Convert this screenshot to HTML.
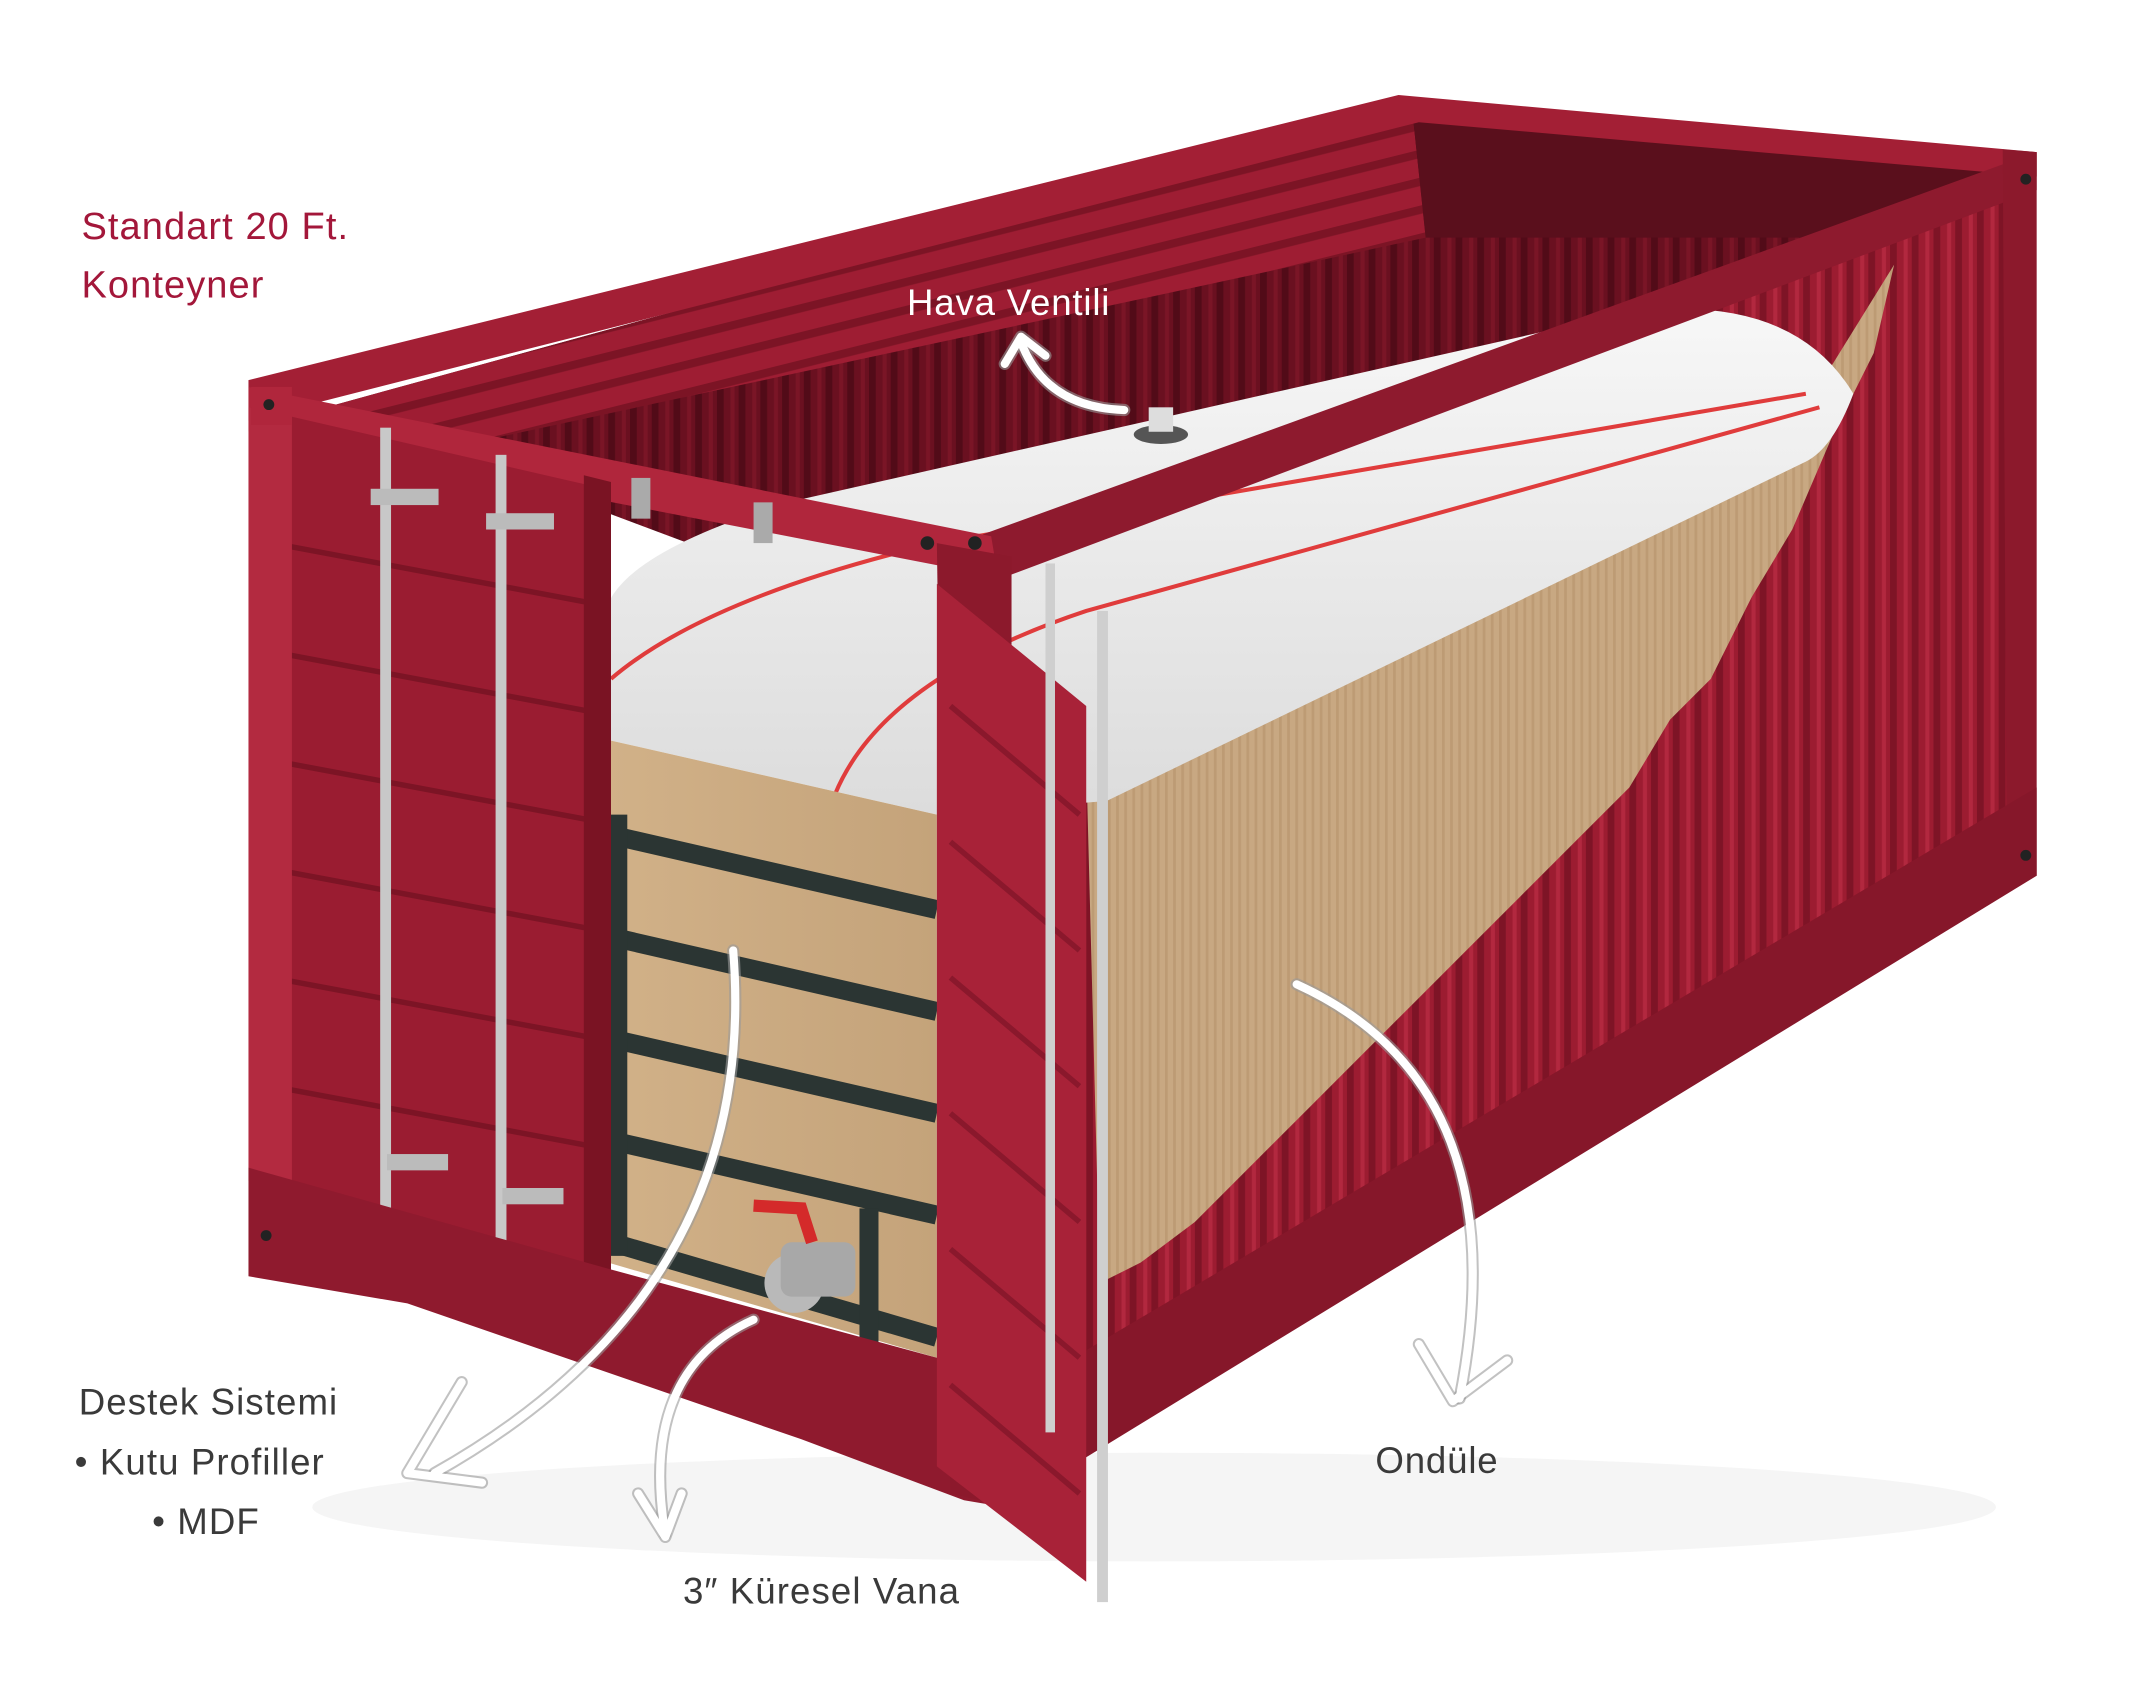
<!DOCTYPE html>
<html><head><meta charset="utf-8">
<style>
html,body{margin:0;padding:0;background:#fff;}
svg{display:block;}
text{font-family:"Liberation Sans","DejaVu Sans",sans-serif;}
</style></head>
<body>
<svg width="2129" height="1689" viewBox="0 0 1568 1244" preserveAspectRatio="none" xmlns="http://www.w3.org/2000/svg">
<defs>
  <pattern id="corr" width="16" height="10" patternUnits="userSpaceOnUse">
    <rect width="16" height="10" fill="#9c1c31"/>
    <rect x="0" width="5" height="10" fill="#7e1426"/>
    <rect x="10" width="3" height="10" fill="#b2283f"/>
  </pattern>
  <pattern id="corrD" width="16" height="10" patternUnits="userSpaceOnUse">
    <rect width="16" height="10" fill="#6a1020"/>
    <rect x="0" width="5" height="10" fill="#520b18"/>
    <rect x="10" width="3" height="10" fill="#7a1526"/>
  </pattern>
  <pattern id="corrT" width="20" height="20" patternUnits="userSpaceOnUse" patternTransform="rotate(-14)">
    <rect width="20" height="20" fill="#9e1d33"/>
    <rect y="0" width="20" height="6" fill="#7c1425"/>
  </pattern>
  <pattern id="card" width="6" height="10" patternUnits="userSpaceOnUse">
    <rect width="6" height="10" fill="#c8a882"/>
    <rect width="2" height="10" fill="#bd9b74"/>
  </pattern>
  <linearGradient id="bag" x1="0" y1="0" x2="0" y2="1">
    <stop offset="0" stop-color="#f7f7f7"/><stop offset="1" stop-color="#dcdcdc"/>
  </linearGradient>
  <linearGradient id="wood" x1="0" y1="0" x2="1" y2="0">
    <stop offset="0" stop-color="#d1b188"/><stop offset="1" stop-color="#c4a37a"/>
  </linearGradient>
</defs>

<!-- shadow -->
<ellipse cx="850" cy="1110" rx="620" ry="40" fill="#f5f5f5"/>

<!-- interior -->
<polygon points="240,300 1040,80 1480,125 1400,200 740,410 560,420" fill="url(#corrD)"/>
<polygon points="240,300 1040,80 1050,175 330,330" fill="url(#corrT)"/>
<polygon points="1040,80 1480,125 1470,175 1050,175" fill="#5a0f1c"/>

<!-- right side face -->
<polygon points="735,405 1495,120 1495,640 740,1110" fill="url(#corr)"/>
<polygon points="800,560 1330,300 1395,195 1380,260 1350,320 1320,390 1290,440 1260,500 1230,530 1200,580 1160,620 1120,660 1080,700 1040,740 1000,780 960,820 920,860 880,900 840,930 810,945" fill="url(#card)"/>

<!-- bag top -->
<path d="M445,455 Q450,410 580,370 L1200,230 Q1320,215 1365,290 Q1350,330 1330,340 L815,590 L690,600 L448,545 Z" fill="url(#bag)"/>
<path d="M450,500 Q520,440 690,400 L1330,290" fill="none" stroke="#e03c3c" stroke-width="3"/>
<path d="M615,585 Q650,500 800,450 L1340,300" fill="none" stroke="#e03c3c" stroke-width="3"/>
<ellipse cx="855" cy="320" rx="20" ry="7" fill="#555"/>
<rect x="846" y="300" width="18" height="18" fill="#ddd"/>

<!-- front MDF interior -->
<polygon points="448,545 690,600 690,1000 448,930" fill="url(#wood)"/>
<g stroke="#2b3533" stroke-width="14" fill="none">
  <line x1="450" y1="615" x2="690" y2="670"/>
  <line x1="450" y1="690" x2="690" y2="745"/>
  <line x1="450" y1="765" x2="690" y2="820"/>
  <line x1="450" y1="840" x2="690" y2="895"/>
  <line x1="450" y1="915" x2="690" y2="985"/>
  <line x1="455" y1="600" x2="455" y2="925"/>
  <line x1="640" y1="890" x2="640" y2="990"/>
</g>
<circle cx="585" cy="945" r="22" fill="#b9b9b9"/>
<rect x="575" y="915" width="55" height="40" rx="8" fill="#a8a8a8"/>
<path d="M555,888 L590,890 L598,915" stroke="#d42a2a" stroke-width="9" fill="none"/>

<!-- top frame -->
<polygon points="183,280 1030,70 1500,112 1500,130 1045,90 220,300 730,400 735,420 183,310" fill="#a31f35"/>
<polygon points="720,395 1500,112 1500,140 740,425" fill="#8e1a2e"/>
<polygon points="183,285 730,395 735,425 183,318" fill="#b0263c"/>

<!-- left closed doors -->
<polygon points="185,300 445,360 445,935 185,870" fill="#9a1c31"/>
<g stroke="#7c1425" stroke-width="4">
  <line x1="200" y1="400" x2="440" y2="445"/><line x1="200" y1="480" x2="440" y2="525"/>
  <line x1="200" y1="560" x2="440" y2="605"/><line x1="200" y1="640" x2="440" y2="685"/>
  <line x1="200" y1="720" x2="440" y2="765"/><line x1="200" y1="800" x2="440" y2="845"/>
</g>
<polygon points="183,300 215,305 215,880 183,870" fill="#b32a40"/>
<polygon points="430,350 450,355 450,940 430,935" fill="#7a1323"/>
<rect x="280" y="315" width="8" height="630" fill="#c8c8c8"/>
<rect x="365" y="335" width="8" height="630" fill="#c8c8c8"/>
<rect x="273" y="360" width="50" height="12" fill="#bbb"/>
<rect x="358" y="378" width="50" height="12" fill="#bbb"/>
<rect x="285" y="850" width="45" height="12" fill="#bbb"/>
<rect x="370" y="875" width="45" height="12" fill="#bbb"/>
<rect x="465" y="352" width="14" height="30" fill="#aaa"/>
<rect x="555" y="370" width="14" height="30" fill="#aaa"/>

<!-- bottom front sill -->
<polygon points="183,860 450,935 690,1000 735,1010 740,1110 710,1105 590,1060 300,960 183,940" fill="#8f1a2e"/>
<polygon points="690,400 745,410 745,1110 700,1100" fill="#8c192c"/>
<polygon points="1475,110 1500,112 1500,645 1478,650" fill="#8c192c"/>
<polygon points="740,1030 1500,580 1500,645 740,1110" fill="#86172a"/>
<rect x="185" y="285" width="30" height="28" fill="#b0263c"/>
<circle cx="198" cy="298" r="4" fill="#222"/>
<circle cx="683" cy="400" r="5" fill="#222"/><circle cx="718" cy="400" r="5" fill="#222"/>
<circle cx="1492" cy="132" r="4" fill="#222"/><circle cx="1492" cy="630" r="4" fill="#222"/>
<circle cx="196" cy="910" r="4" fill="#222"/>

<!-- open right door -->
<polygon points="690,430 800,520 800,1165 690,1080" fill="#a82238"/>
<g stroke="#8a182c" stroke-width="4">
  <line x1="700" y1="520" x2="795" y2="600"/><line x1="700" y1="620" x2="795" y2="700"/>
  <line x1="700" y1="720" x2="795" y2="800"/><line x1="700" y1="820" x2="795" y2="900"/>
  <line x1="700" y1="920" x2="795" y2="1000"/><line x1="700" y1="1020" x2="795" y2="1100"/>
</g>
<rect x="808" y="450" width="8" height="730" fill="#cfcfcf"/>
<rect x="770" y="415" width="7" height="640" fill="#cfcfcf"/>

<!-- arrows: grey outline then white -->
<g fill="none" stroke="#9a9a9a" stroke-width="9" stroke-linecap="round" stroke-linejoin="round" stroke-opacity="0.6">
  <path d="M828,302 Q770,300 752,252"/><path d="M740,268 L752,248 L770,262"/>
  <path d="M540,700 Q560,950 320,1085"/><path d="M340,1018 L300,1085 L355,1092"/>
  <path d="M555,972 Q470,1010 490,1130"/><path d="M470,1100 L490,1132 L502,1100"/>
  <path d="M955,725 Q1120,800 1075,1030"/><path d="M1045,990 L1070,1032 L1110,1002"/>
</g>
<g fill="none" stroke="#fff" stroke-width="6" stroke-linecap="round" stroke-linejoin="round">
  <path d="M828,302 Q770,300 752,252"/><path d="M740,268 L752,248 L770,262"/>
  <path d="M540,700 Q560,950 320,1085"/><path d="M340,1018 L300,1085 L355,1092"/>
  <path d="M555,972 Q470,1010 490,1130"/><path d="M470,1100 L490,1132 L502,1100"/>
  <path d="M955,725 Q1120,800 1075,1030"/><path d="M1045,990 L1070,1032 L1110,1002"/>
</g>

<!-- labels -->
<text x="60" y="176" font-size="28" fill="#a3173a" letter-spacing="0.8">Standart 20 Ft.</text>
<text x="60" y="219" font-size="28" fill="#a3173a" letter-spacing="0.8">Konteyner</text>
<text x="668" y="232" font-size="27" fill="#fff" letter-spacing="0.6">Hava Ventili</text>
<text x="58" y="1042" font-size="27" fill="#3a3a3a" letter-spacing="0.8">Destek Sistemi</text>
<text x="55" y="1086" font-size="27" fill="#3a3a3a" letter-spacing="0.8">• Kutu Profiller</text>
<text x="112" y="1130" font-size="27" fill="#3a3a3a" letter-spacing="0.8">• MDF</text>
<text x="1013" y="1085" font-size="27" fill="#3a3a3a" letter-spacing="0.6">Ondüle</text>
<text x="503" y="1181" font-size="27" fill="#3a3a3a" letter-spacing="0.8">3″ Küresel Vana</text>
</svg>
</body></html>
